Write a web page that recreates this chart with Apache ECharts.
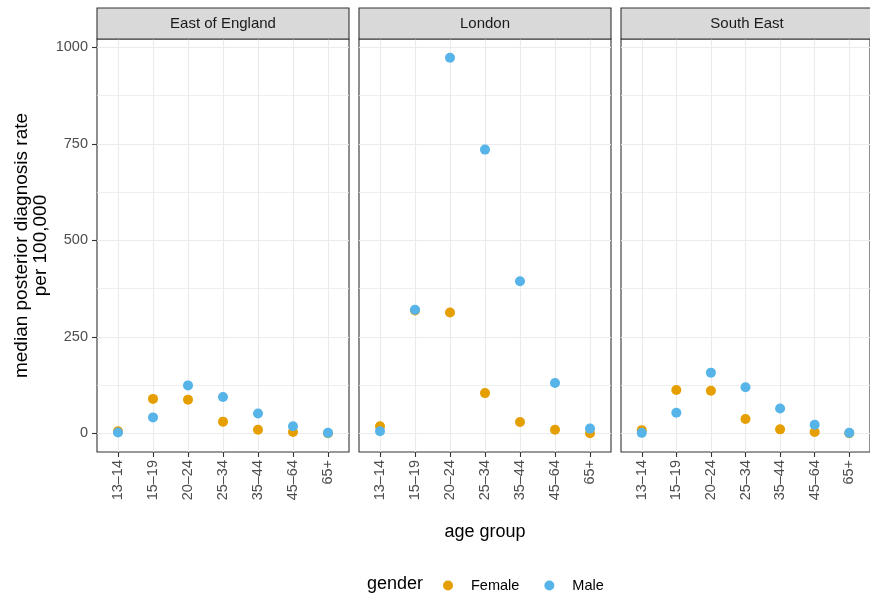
<!DOCTYPE html>
<html>
<head>
<meta charset="utf-8">
<script src="https://cdn.jsdelivr.net/npm/echarts@6/dist/echarts.min.js"></script>
<style>html,body{margin:0;padding:0;background:#fff;}#c{width:870px;height:598px;}</style>
</head>
<body>
<div id="c"></div>
<script>
const categories = ['13–14', '15–19', '20–24', '25–34', '35–44', '45–64', '65+'];
const regions = ['East of England', 'London', 'South East'];
const femaleEast = [5, 89, 87, 30, 9, 3, 0];
const maleEast = [2, 41, 124, 94, 51, 18, 1];
const femaleLondon = [18, 318, 313, 104, 29, 9, 0];
const maleLondon = [5, 320, 973, 735, 394, 130, 12];
const femaleSouthEast = [8, 112, 110, 37, 10, 3, 0];
const maleSouthEast = [1, 53, 157, 119, 64, 22, 1];
const yTicks = [0, 250, 500, 750, 1000];
const yMinorTicks = [125, 375, 625, 875];

const femaleByRegion = [femaleEast, femaleLondon, femaleSouthEast];
const maleByRegion = [maleEast, maleLondon, maleSouthEast];

const FONT = 'Liberation Sans, Arial, Helvetica, sans-serif';
const yMin = -48.65, yMax = 1021.65;
const panelLeft = [97, 359, 621];
const panelW = 252, panelTop = 39, panelH = 413;
const catIdx = categories.map((c, i) => i);

const grids = [], xAxes = [], yAxes = [], series = [], graphics = [];
regions.forEach((r, i) => {
  grids.push({left: panelLeft[i], top: panelTop, width: panelW, height: panelH,
    show: true, borderColor: '#333333', borderWidth: 1.1, backgroundColor: 'transparent', containLabel: false});
  xAxes.push({type: 'value', gridIndex: i, min: -0.6, max: 6.6, position: 'bottom',
    axisLine: {show: false, onZero: false},
    axisTick: {show: true, customValues: catIdx, length: 5, lineStyle: {color: '#333333', width: 1.1}},
    axisLabel: {show: true, customValues: catIdx, rotate: 90, margin: 8, fontSize: 14.5, fontFamily: FONT, color: '#4D4D4D',
      formatter: v => categories[Math.round(v)]},
    splitLine: {show: true, lineStyle: {color: '#EBEBEB', width: 1.1}}
  });
  yAxes.push({type: 'value', gridIndex: i, min: yMin, max: yMax, position: 'left',
    axisLine: {show: false, onZero: false},
    axisTick: {show: i === 0, customValues: yTicks, length: 5, lineStyle: {color: '#333333', width: 1.1}},
    axisLabel: {show: i === 0, customValues: yTicks, margin: 9, fontSize: 14.5, fontFamily: FONT, color: '#4D4D4D',
      formatter: v => String(v)},
    splitLine: {show: true, lineStyle: {color: '#EBEBEB', width: 1.1}}
  });
  yAxes.push({type: 'value', gridIndex: i, min: yMin, max: yMax, position: 'left',
    axisLine: {show: false, onZero: false},
    axisTick: {show: false, customValues: yMinorTicks},
    axisLabel: {show: false, customValues: yMinorTicks},
    splitLine: {show: true, lineStyle: {color: '#EBEBEB', width: 0.8}}
  });
  series.push({type: 'scatter', name: 'Female', xAxisIndex: i, yAxisIndex: 2 * i,
    symbol: 'circle', symbolSize: 10, itemStyle: {color: '#E69F00', opacity: 1},
    data: femaleByRegion[i].map((v, j) => [j, v]), z: 3});
  series.push({type: 'scatter', name: 'Male', xAxisIndex: i, yAxisIndex: 2 * i,
    symbol: 'circle', symbolSize: 10, itemStyle: {color: '#56B4E9', opacity: 1},
    data: maleByRegion[i].map((v, j) => [j, v]), z: 4});
  graphics.push({type: 'rect', shape: {x: panelLeft[i], y: 8, width: panelW, height: 31},
    style: {fill: '#D9D9D9', stroke: '#333333', lineWidth: 1.1}, z: 10});
  graphics.push({type: 'text', x: panelLeft[i] + panelW / 2, y: 23.5,
    style: {text: r, align: 'center', verticalAlign: 'middle', textAlign: 'center', textVerticalAlign: 'middle',
      font: '15px ' + FONT, fill: '#1A1A1A'}, z: 11});
});

graphics.push({type: 'text', x: 31, y: 245.5, rotation: Math.PI / 2,
  style: {text: 'median posterior diagnosis rate\nper 100,000', align: 'center', verticalAlign: 'middle',
    textAlign: 'center', textVerticalAlign: 'middle', font: '19px ' + FONT, fill: '#000000', lineHeight: 19}});
graphics.push({type: 'text', x: 485, y: 532,
  style: {text: 'age group', align: 'center', verticalAlign: 'middle', textAlign: 'center', textVerticalAlign: 'middle',
    font: '18px ' + FONT, fill: '#000000'}});
graphics.push({type: 'text', x: 367, y: 584,
  style: {text: 'gender', align: 'left', verticalAlign: 'middle', textAlign: 'left', textVerticalAlign: 'middle',
    font: '18px ' + FONT, fill: '#000000'}});

const chart = echarts.init(document.getElementById('c'), null, {renderer: 'canvas'});
chart.setOption({
  animation: false,
  backgroundColor: '#ffffff',
  grid: grids,
  xAxis: xAxes,
  yAxis: yAxes,
  series: series,
  legend: {data: ['Female', 'Male'], left: 438, top: 573, orient: 'horizontal',
    icon: 'circle', itemWidth: 36, itemHeight: 10, itemGap: 25,
    textStyle: {fontSize: 14.5, fontFamily: FONT, color: '#000000'}},
  graphic: graphics
});
</script>
</body>
</html>
